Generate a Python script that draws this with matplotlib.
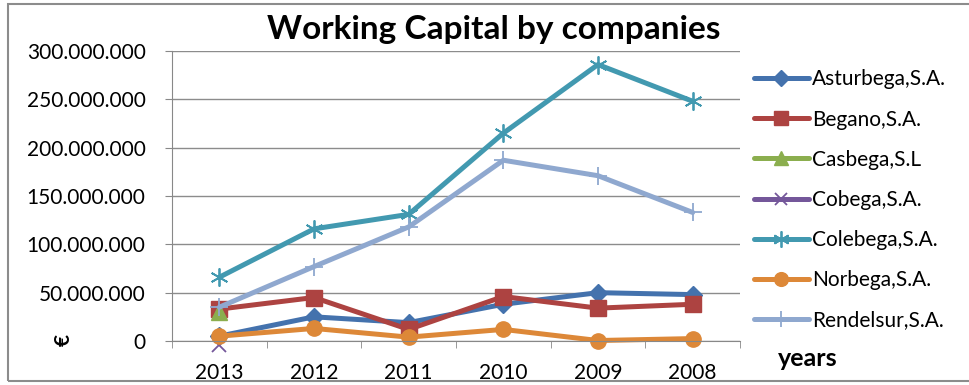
import matplotlib
matplotlib.use("Agg")
import matplotlib.pyplot as plt
from matplotlib.patches import Rectangle
from matplotlib.ticker import FuncFormatter

plt.rcParams['font.family'] = ['Lato', 'DejaVu Sans']

years = ['2013', '2012', '2011', '2010', '2009', '2008']

asturbega = [5e6, 25e6, 19e6, 38e6, 50e6, 48e6]
begano = [33e6, 45e6, 12e6, 46e6, 34e6, 38e6]
casbega = [30e6, None, None, None, None, None]
cobega = [-4e6, None, None, None, None, None]
colebega = [66e6, 116e6, 131e6, 215e6, 286e6, 248e6]
norbega = [5e6, 13e6, 4e6, 12e6, 0.5e6, 2.5e6]
rendelsur = [35e6, 77e6, 118e6, 187e6, 171e6, 133e6]

series = [
    ('Asturbega,S.A.', asturbega, '#4472AD', 'D', 9),
    ('Begano,S.A.', begano, '#AD4341', 's', 11),
    ('Casbega,S.L', casbega, '#8BAE4E', '^', 11),
    ('Cobega,S.A.', cobega, '#74579A', 'x', 10),
    ('Colebega,S.A.', colebega, '#4299B0', (6, 2, 0), 13),
    ('Norbega,S.A.', norbega, '#DD8838', 'o', 11),
    ('Rendelsur,S.A.', rendelsur, '#8FA8CF', '+', 13),
]

fig = plt.figure(figsize=(9.69, 3.85), dpi=100)
ax = fig.add_axes([172 / 969, 1 - 341 / 385, (740 - 172) / 969, (341 - 51) / 385])

x = list(range(len(years)))
for name, vals, color, marker, ms in series:
    pts = [(i, v) for i, v in zip(x, vals) if v is not None]
    xs = [p[0] for p in pts]
    ys = [p[1] for p in pts]
    filled = marker not in ('x', '+') and not isinstance(marker, tuple)
    ax.plot(xs, ys, color=color, lw=3.6, marker=marker, ms=ms,
            mfc=color if filled else 'none', mec=color,
            mew=1.3 if not filled else 1, label=name, clip_on=False,
            solid_capstyle='round', solid_joinstyle='round')

ax.set_xlim(-0.5, len(years) - 0.5)
ax.set_ylim(0, 300e6)
ax.set_yticks([i * 50e6 for i in range(7)])
ax.yaxis.set_major_formatter(FuncFormatter(lambda v, p: f"{int(round(v)):,}".replace(',', '.')))
ax.set_xticks(x)
ax.set_xticklabels(years)
ax.set_xticks([i - 0.5 for i in range(len(years) + 1)], minor=True)
ax.tick_params(axis='x', which='major', length=0, labelsize=15, pad=16)
ax.tick_params(axis='x', which='minor', length=5, color='#888888')
ax.tick_params(axis='y', length=5, color='#888888', labelsize=15, pad=14)
ax.grid(axis='y', color='#8C8C8C', lw=1)
ax.set_axisbelow(True)
for s in ('top', 'right'):
    ax.spines[s].set_visible(False)
for s in ('left', 'bottom'):
    ax.spines[s].set_color('#888888')

fig.text(494 / 969, 1 - 30 / 385, 'Working Capital by companies', ha='center', va='center',
         fontsize=24, fontweight='bold')
fig.text(808 / 969, 1 - 358 / 385, 'years', ha='center', va='center', fontsize=18, fontweight='bold')
fig.text(64 / 969, 1 - 340 / 385, '€', ha='center', va='center', fontsize=15, fontweight='bold',
         rotation=90)

leg = ax.legend(loc='upper left', bbox_to_anchor=(746 / 969, 1 - 61 / 385),
                bbox_transform=fig.transFigure, frameon=False, fontsize=15,
                handlelength=2.6, labelspacing=0.97, handletextpad=0.15, borderaxespad=0,
                markerscale=0.9)

fig.add_artist(Rectangle((8 / 969, 4 / 385), 1.1, (381 - 4) / 385, transform=fig.transFigure,
                         fill=False, ec='#8C8C8C', lw=1.5))

fig.savefig('out.png', dpi=100)
